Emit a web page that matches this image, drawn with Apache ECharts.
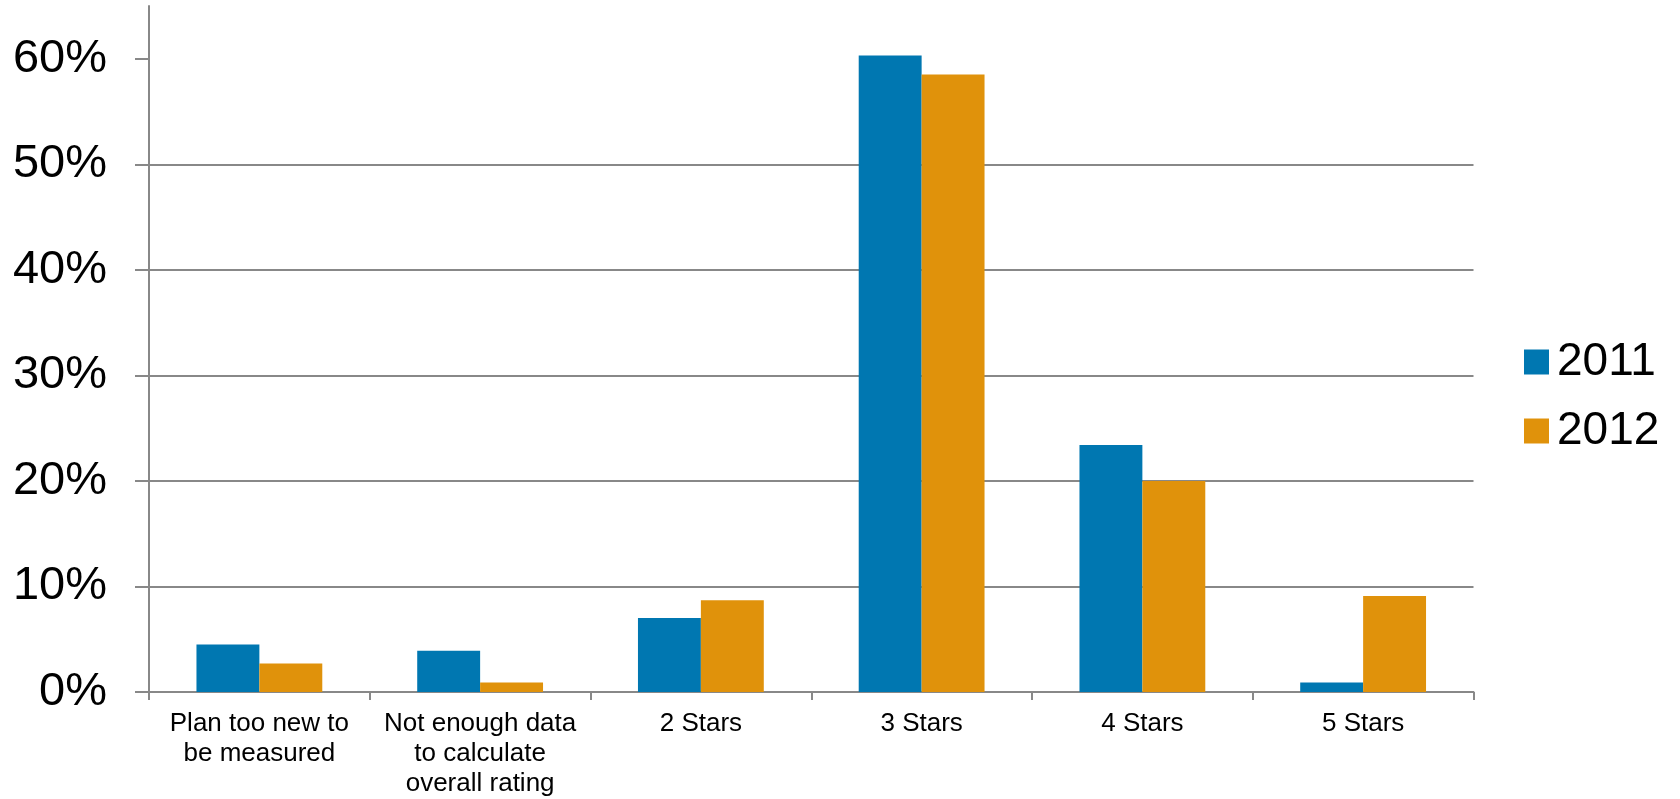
<!DOCTYPE html>
<html>
<head>
<meta charset="utf-8">
<script src="https://cdn.jsdelivr.net/npm/echarts@6/dist/echarts.min.js"></script>
<style>
  html, body { margin: 0; padding: 0; background: #ffffff; }
  #chart { width: 1680px; height: 799px; }
</style>
</head>
<body>
<div id="chart"></div>
<script>
const categories = [
  'Plan too new to\nbe measured',
  'Not enough data\nto calculate\noverall rating',
  '2 Stars',
  '3 Stars',
  '4 Stars',
  '5 Stars'
];
const seriesNames = ['2011', '2012'];
const values2011 = [4.5, 3.9, 7.0, 60.3, 23.4, 0.9];
const values2012 = [2.7, 0.9, 8.7, 58.5, 20.0, 9.1];
const yTicks = [0, 10, 20, 30, 40, 50, 60];

const FONT = '"Liberation Sans", Arial, sans-serif';
const GRAY = '#888888';

const chart = echarts.init(document.getElementById('chart'), null, { renderer: 'canvas' });
chart.setOption({
  backgroundColor: '#ffffff',
  animation: false,
  grid: { left: 149, right: 206.5, top: 6, bottom: 106.5, containLabel: false },
  legend: {
    orient: 'vertical',
    left: 1519,
    top: 334,
    itemWidth: 25,
    itemHeight: 25,
    itemGap: 23,
    icon: 'rect',
    data: seriesNames,
    textStyle: { fontFamily: FONT, fontSize: 46, lineHeight: 46, color: '#000000', padding: [0, 0, 0, 3] }
  },
  xAxis: {
    type: 'category',
    data: categories,
    boundaryGap: true,
    axisLine: { show: true, lineStyle: { color: GRAY, width: 2 } },
    axisTick: { show: true, inside: false, length: 8, alignWithLabel: false, lineStyle: { color: GRAY, width: 2 } },
    axisLabel: {
      interval: 0,
      margin: 17,
      fontFamily: FONT,
      fontSize: 26,
      lineHeight: 30,
      color: '#000000',
      align: 'center',
      verticalAlign: 'top'
    },
    splitLine: { show: false }
  },
  yAxis: {
    type: 'value',
    min: 0,
    max: 65,
    interval: 10,
    axisLine: { show: true, lineStyle: { color: GRAY, width: 2 } },
    axisTick: { show: true, inside: false, length: 14, customValues: yTicks, lineStyle: { color: GRAY, width: 2 } },
    axisLabel: {
      margin: 42,
      fontFamily: FONT,
      fontSize: 47,
      color: '#000000',
      showMaxLabel: false,
      formatter: function (v) { return yTicks.indexOf(v) >= 0 ? v + '%' : ''; }
    },
    splitLine: { show: true, showMaxLine: false, lineStyle: { color: GRAY, width: 2 } }
  },
  series: [
    {
      name: seriesNames[0],
      type: 'bar',
      data: values2011,
      barWidth: '28.5%',
      barGap: '0%',
      itemStyle: { color: '#0077B1' }
    },
    {
      name: seriesNames[1],
      type: 'bar',
      data: values2012,
      barWidth: '28.5%',
      barGap: '0%',
      itemStyle: { color: '#E0920B' }
    }
  ]
});
</script>
</body>
</html>
